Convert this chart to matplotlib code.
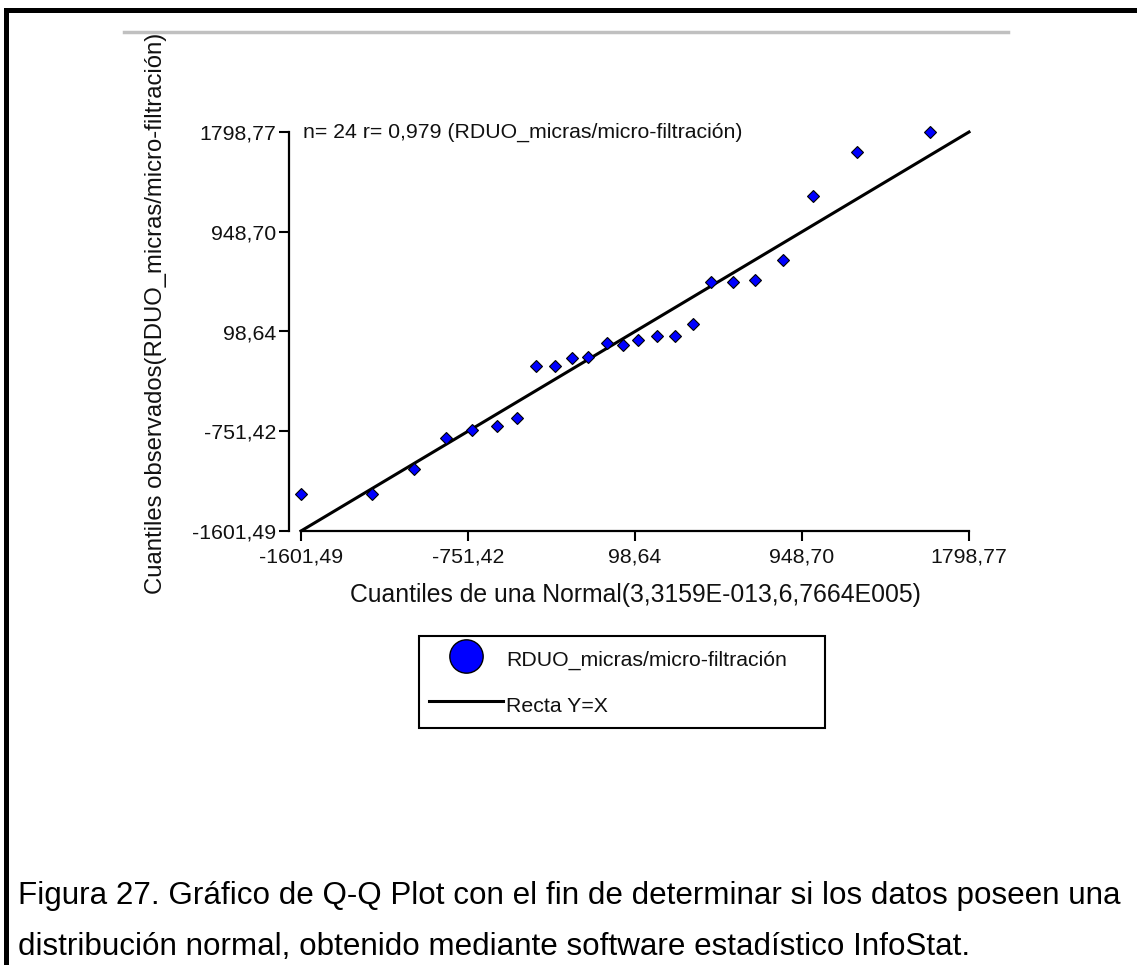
import matplotlib
matplotlib.use('Agg')
import matplotlib.pyplot as plt
from matplotlib.lines import Line2D
from matplotlib.patches import Rectangle

plt.rcParams['font.family'] = ['Liberation Sans', 'DejaVu Sans']

# Normal theoretical quantiles (x) vs observed quantiles (y), n = 24
teoricos = [-1601.5, -1238.6, -1024.8, -863.4, -729.5, -605.3, -503.5, -402.8,
            -309.6, -219.5, -139.1, -44.9, 37.5, 115.5, 212.1, 302.2,
            395.4, 484.0, 599.0, 711.0, 853.5, 1006.2, 1230.2, 1600.2]
observados = [-1288.7, -1288.7, -1073.1, -809.0, -740.8, -706.7, -641.1, -195.4,
              -195.4, -125.5, -118.7, -1.9, -13.0, 26.2, 60.3, 60.3,
              162.5, 523.0, 517.9, 537.5, 708.0, 1253.4, 1630.9, 1801.3]
recta = [-1601.49, 1798.77]
ticks = [-1601.49, -751.42, 98.64, 948.70, 1798.77]
tick_labels = ['-1601,49', '-751,42', '98,64', '948,70', '1798,77']

serie = 'RDUO_micras/micro-filtración'
fs = 15.3
txt = '#111111'

fig = plt.figure(figsize=(11.37, 9.65), dpi=100)
ax = fig.add_axes([301/1137, 1 - 531/965, 668/1137, 399/965])

ax.plot(recta, recta, color='black', lw=2.2, label='Recta Y=X', clip_on=False, zorder=2)
ax.plot(teoricos, observados, ls='none', marker='D', ms=6.6, mfc='#0000ff', mec='black',
        mew=0.8, clip_on=False, zorder=3)

ax.set_xlim(recta)
ax.set_ylim(recta)
ax.set_xticks(ticks)
ax.set_xticklabels(tick_labels)
ax.set_yticks(ticks)
ax.set_yticklabels(tick_labels)
ax.tick_params(labelsize=fs, labelcolor=txt, length=7, width=1.5, pad=2)
ax.tick_params(axis='x', pad=5)
ax.spines['top'].set_visible(False)
ax.spines['right'].set_visible(False)
ax.spines['left'].set_position(('outward', 8.6))
for s in ['left', 'bottom']:
    ax.spines[s].set_linewidth(1.6)

ax.set_xlabel('Cuantiles de una Normal(3,3159E-013,6,7664E005)', fontsize=17.8, color=txt, labelpad=12)
ax.set_ylabel('Cuantiles observados(' + serie + ')', fontsize=17.2, color=txt)
ax.yaxis.set_label_coords(-0.2, 0.545)

ax.text(0.003, 1.0, 'n= 24 r= 0,979 (' + serie + ')', transform=ax.transAxes,
        fontsize=fs, color=txt, ha='left', va='center')

# legend
handles = [Line2D([], [], ls='none', marker='o', ms=24, mfc='#0000ff', mec='black', mew=1),
           Line2D([], [], color='black', lw=2.2)]
leg = fig.legend(handles, [serie, 'Recta Y=X'], loc='upper left',
                 bbox_to_anchor=(419/1137, 1 - 733/965, 406/1137, 97/965), mode='expand',
                 fontsize=fs, frameon=True, fancybox=False, framealpha=1, edgecolor='black',
                 handlelength=3.5, handleheight=1.6, handletextpad=0.15, labelspacing=0.85,
                 borderpad=0.45, borderaxespad=0)
leg.get_frame().set_linewidth(1.5)
for t in leg.get_texts():
    t.set_color(txt)

# page decorations: gray rule, black frame edges
fig.add_artist(Line2D([124/1137, 1008/1137], [1 - 32/965, 1 - 32/965], color='#c0c0c0', lw=2.5))
fig.add_artist(Rectangle((4/1137, 0), 5/1137, 1 - 8/965, color='black', lw=0))
fig.add_artist(Rectangle((4/1137, 1 - 13/965), 1, 5/965, color='black', lw=0))

# caption
cap = ['Figura 27. Gráfico de Q-Q Plot con el fin de determinar si los datos poseen una',
       'distribución normal, obtenido mediante software estadístico InfoStat.']
fig.text(18/1137, 1 - 904/965, cap[0], fontsize=22.6, color='black', va='baseline')
fig.text(18/1137, 1 - 955/965, cap[1], fontsize=22.6, color='black', va='baseline')

fig.savefig('out.png', dpi=100)
